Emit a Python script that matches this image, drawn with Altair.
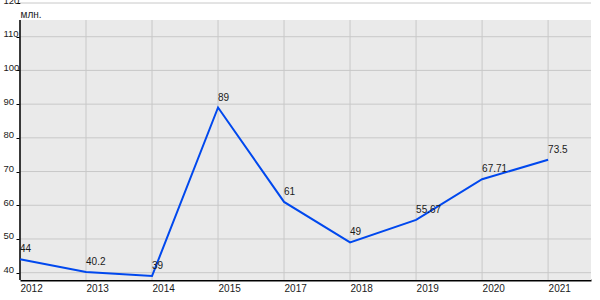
import json
import altair as alt
import pandas as pd

years = ["2012", "2013", "2014", "2015", "2017", "2018", "2019", "2020", "2021"]
values = [44, 40.2, 39, 89, 61, 49, 55.67, 67.71, 73.5]
y_ticks = [40, 50, 60, 70, 80, 90, 100, 110, 120]
unit_label = "млн."

df = pd.DataFrame({
    "idx": list(range(len(years))),
    "year": years,
    "value": values,
    "label": [f"{v:g}" for v in values],
})
grid_df = pd.DataFrame({"value": y_ticks})

FONT = "Liberation Sans"
FS = 10
W, H = 571, 277
TOP_BAND = 17  # white band above grey plot background

xscale = alt.Scale(domain=[0, 8.65], nice=False, zero=False)
yscale = alt.Scale(domain=[37.83, 120], nice=False, zero=False)

label_expr = json.dumps(years) + "[datum.value]"

xaxis = alt.Axis(
    values=list(range(len(years))), labelExpr=label_expr, title=None,
    grid=False, ticks=False, domain=True, domainColor="black", domainWidth=2,
    labelAlign="left", labelBaseline="top", labelPadding=3, labelFlush=False,
    labelFont=FONT, labelFontSize=FS, labelColor="#1a1a1a", labelOverlap=False,
)
yaxis = alt.Axis(
    values=y_ticks, grid=False, domain=False, ticks=True, tickSize=4,
    tickColor="black", tickWidth=1,
    labelAlign="left", labelBaseline="alphabetic", labelPadding=13, labelFlush=False,
    labelFont=FONT, labelFontSize=9.5, labelColor="#1a1a1a", labelOverlap=False,
    title=unit_label, titleAngle=0, titleAlign="left", titleBaseline="alphabetic",
    titleX=0, titleY=14, titleFont=FONT, titleFontSize=FS, titleFontWeight="normal",
    titleColor="#1a1a1a",
)

X = alt.X("idx:Q", scale=xscale, axis=xaxis)
Y = alt.Y("value:Q", scale=yscale, axis=yaxis)

bg = alt.Chart(pd.DataFrame({"a": [0]})).mark_rect(color="#eaeaea").encode(
    x=alt.value(0), x2=alt.value(W), y=alt.value(TOP_BAND), y2=alt.value(H)
)

hgrid = alt.Chart(grid_df).mark_rule(color="#c8c8c8", strokeWidth=1).encode(
    y=Y, x=alt.value(0), x2=alt.value(W),
)

vgrid = alt.Chart(df).mark_rule(color="#c8c8c8", strokeWidth=1).encode(
    x=X, y=alt.value(TOP_BAND), y2=alt.value(H),
)

yline = alt.Chart(pd.DataFrame({"a": [0]})).mark_rule(color="black", strokeWidth=1.5).encode(
    x=alt.value(0), y=alt.value(TOP_BAND), y2=alt.value(H)
)

line = alt.Chart(df).mark_line(color="#0048ee", strokeWidth=2).encode(x=X, y=Y)

text = alt.Chart(df).mark_text(
    align="left", baseline="alphabetic", dy=-7, font=FONT, fontSize=FS, color="#1a1a1a"
).encode(x=X, y=Y, text="label:N")

chart = alt.layer(bg, hgrid, vgrid, yline, line, text).properties(
    width=W, height=H,
    autosize=alt.AutoSizeParams(type="none"),
    padding={"left": 20, "top": 3, "right": 9, "bottom": 20},
    background="white",
).configure_view(stroke=None)

chart.save("out.html", embed_options={"renderer": "svg", "actions": False})
